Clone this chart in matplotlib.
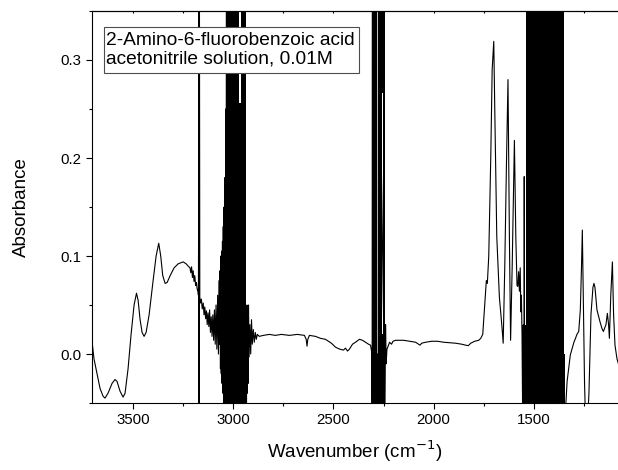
import matplotlib
matplotlib.use("Agg")
import matplotlib.pyplot as plt
from matplotlib.patches import Rectangle
from matplotlib.ticker import MultipleLocator, NullFormatter

plt.rcParams['font.family'] = ['Liberation Sans', 'DejaVu Sans']

# ---- spectrum (wavenumber cm^-1, absorbance) ----
wavenumber = [
    3705, 3695, 3680, 3665, 3650, 3640, 3625, 3605, 3590, 3580, 3565, 3550, 3540,
    3525, 3510, 3495, 3483, 3475, 3465, 3455, 3445, 3435, 3420, 3400, 3385, 3372,
    3362, 3352, 3340, 3330, 3315, 3295, 3275, 3250, 3235, 3222, 3216,
    3212, 3208, 3204, 3200, 3196, 3192, 3188, 3184, 3180, 3176, 3174,
    3172.5, 3171.5, 3171, 3170.5, 3170, 3169.5, 3169, 3167,
    3163, 3159, 3155, 3150, 3146, 3142, 3138, 3134, 3130, 3126, 3122, 3118, 3114,
    3110, 3106, 3102, 3098, 3094, 3090, 3086, 3082, 3078, 3074, 3070, 3068, 3066,
    3064, 3062, 3060, 3058, 3056, 3054, 3052, 3050, 3048, 3046, 3044, 3042, 3040,
    3038, 3036, 3034, 3033, 2934,
    2932, 2930, 2928, 2926, 2924, 2921, 2917, 2913, 2909, 2905, 2900, 2895, 2890,
    2885, 2880, 2870, 2850, 2820, 2790, 2760, 2720, 2680, 2645, 2636, 2632, 2628,
    2620, 2590, 2565, 2540, 2510, 2490, 2470, 2450, 2440, 2430, 2420, 2405, 2390,
    2370, 2355, 2340, 2325, 2315, 2310, 2307, 2306, 2284, 2280, 2277, 2276, 2243,
    2240, 2237, 2233, 2228, 2220, 2210, 2203, 2190, 2170, 2150, 2120, 2090, 2075,
    2068, 2060, 2040, 2010, 1980, 1950, 1918, 1890, 1860, 1840, 1827, 1815, 1795,
    1775, 1765, 1755, 1745, 1737, 1732, 1725, 1715, 1708, 1700, 1695, 1685, 1672,
    1660, 1653, 1645, 1637, 1629, 1622, 1616, 1608, 1602, 1597, 1590, 1584, 1580,
    1576, 1572, 1568, 1565, 1562, 1559, 1556, 1552, 1549, 1548, 1546, 1346,
    1340, 1334, 1318, 1300, 1292, 1285, 1276, 1268, 1262, 1258, 1252, 1247, 1243,
    1232, 1225, 1215, 1205, 1200, 1195, 1185, 1170, 1160, 1153, 1140, 1133, 1127,
    1123, 1116, 1108, 1102, 1095, 1085, 1075,
]
absorbance = [
    0.013, -0.005, -0.020, -0.035, -0.043, -0.045, -0.040, -0.030, -0.026, -0.028, -0.038, -0.044, -0.040,
    -0.015, 0.020, 0.050, 0.062, 0.055, 0.035, 0.022, 0.018, 0.022, 0.040, 0.075, 0.100, 0.113,
    0.100, 0.080, 0.072, 0.073, 0.080, 0.088, 0.092, 0.094, 0.092, 0.089, 0.088,
    0.083, 0.089, 0.078, 0.085, 0.074, 0.080, 0.070, 0.073, 0.066, 0.064, 0.060,
    0.165, -0.070, 0.400, -0.070, 0.400, -0.070, 0.400, 0.058,
    0.052, 0.056, 0.046, 0.052, 0.040, 0.048, 0.036, 0.044, 0.030, 0.042, 0.028, 0.045, 0.022,
    0.038, 0.018, 0.040, 0.014, 0.045, 0.010, 0.050, 0.005, 0.060, 0.000, 0.075, 0.010, 0.085,
    -0.015, 0.100, -0.020, 0.105, -0.030, 0.115, -0.040, 0.130, -0.060, 0.150, -0.060, 0.180, -0.060,
    0.250, -0.060, 0.400, -0.060, -0.060,
    0.050, -0.040, 0.040, -0.030, 0.050, -0.003, 0.030, 0.000, 0.035, 0.010, 0.025, 0.012, 0.022,
    0.015, 0.020, 0.018, 0.019, 0.020, 0.019, 0.020, 0.019, 0.020, 0.019, 0.015, 0.008, 0.015,
    0.019, 0.018, 0.016, 0.015, 0.011, 0.007, 0.005, 0.004, 0.006, 0.003, 0.005, 0.010, 0.012,
    0.015, 0.014, 0.012, 0.010, 0.009, 0.003, -0.060, 0.400, -0.060, 0.000, -0.060, 0.400, -0.060,
    0.030, -0.010, 0.005, 0.0075, 0.012, 0.010, 0.013, 0.014, 0.014, 0.014, 0.013, 0.012, 0.010,
    0.009, 0.011, 0.012, 0.013, 0.013, 0.012, 0.0115, 0.011, 0.010, 0.009, 0.0085, 0.011, 0.013,
    0.014, 0.016, 0.020, 0.050, 0.075, 0.072, 0.100, 0.200, 0.290, 0.319, 0.250, 0.120, 0.058,
    0.030, 0.011, 0.090, 0.190, 0.280, 0.120, 0.014, 0.090, 0.160, 0.218, 0.120, 0.070, 0.069,
    0.084, 0.064, 0.088, 0.043, 0.060, 0.020, -0.060, 0.030, -0.060, 0.181, -0.060, -0.060,
    -0.050, -0.028, -0.001, 0.012, 0.016, 0.020, 0.023, 0.045, 0.090, 0.1265, 0.040, -0.030, -0.060,
    -0.070, -0.040, 0.040, 0.068, 0.072, 0.068, 0.045, 0.033, 0.026, 0.023, 0.030, 0.0415, 0.030,
    0.016, 0.060, 0.094, 0.040, 0.009, -0.005, -0.012,
]

# saturated (off-scale oscillation) regions: wavenumber range and absorbance range covered
band_wn_start = [3036, 2970, 2963, 2306, 2284, 2276, 2256, 2256, 2253, 1561, 1541, 1350]
band_wn_end   = [2970, 2963, 2934, 2284, 2276, 2256, 2253, 2253, 2242, 1541, 1350, 1345]
band_low      = [-0.06, -0.06, -0.06, -0.06, -0.06, -0.06, -0.06, 0.266, -0.06, -0.06, -0.06, -0.06]
band_high     = [0.36, 0.256, 0.36, 0.36, 0.0, 0.36, 0.02, 0.36, 0.36, 0.03, 0.36, 0.0]

label_lines = ["2-Amino-6-fluorobenzoic acid", "acetonitrile solution, 0.01M"]

fig = plt.figure(figsize=(6.18, 4.70), dpi=100)
ax = fig.add_axes([92/618, 67/470, 526/618, 392/470])

ax.plot(wavenumber, absorbance, color='black', lw=0.8)
for w0, w1, lo, hi in zip(band_wn_start, band_wn_end, band_low, band_high):
    ax.fill_between([w0, w1], [lo, lo], [hi, hi], color='black', lw=0)

ax.set_xlim(3705, 1080)
ax.set_ylim(-0.05, 0.35)

ax.xaxis.set_major_locator(MultipleLocator(500))
ax.xaxis.set_minor_locator(MultipleLocator(250))
ax.yaxis.set_major_locator(MultipleLocator(0.1))
ax.yaxis.set_minor_locator(MultipleLocator(0.05))
ax.yaxis.set_major_formatter(plt.FuncFormatter(lambda v, p: f"{v:.1f}"))

ax.spines['right'].set_visible(False)
for s in ['left', 'bottom', 'top']:
    ax.spines[s].set_linewidth(0.8)

ax.tick_params(axis='both', which='major', direction='out', length=4.5, width=0.8,
               labelsize=10.8, pad=3)
ax.tick_params(axis='both', which='minor', direction='out', length=2.5, width=0.8)
ax.tick_params(axis='y', which='both', right=False)

top = ax.secondary_xaxis('top')
top.xaxis.set_major_locator(MultipleLocator(250))
top.xaxis.set_major_formatter(NullFormatter())
top.tick_params(direction='in', length=1.5, width=0.8)
top.spines['top'].set_linewidth(0.8)

ax.set_xlabel("Wavenumber (cm$^{-1}$)", fontsize=13.5, labelpad=8)
ax.set_ylabel("Absorbance", fontsize=13.5, labelpad=22)

ax.add_patch(Rectangle((0.0228, 0.841), 0.4839, 0.1189, transform=ax.transAxes,
                       facecolor='white', edgecolor='0.3', lw=0.8, zorder=5))
ax.text(0.027, 0.9005, "\n".join(label_lines), transform=ax.transAxes,
        ha='left', va='center', fontsize=13.8, linespacing=1.15, zorder=6)

fig.savefig("out.png", dpi=100)
